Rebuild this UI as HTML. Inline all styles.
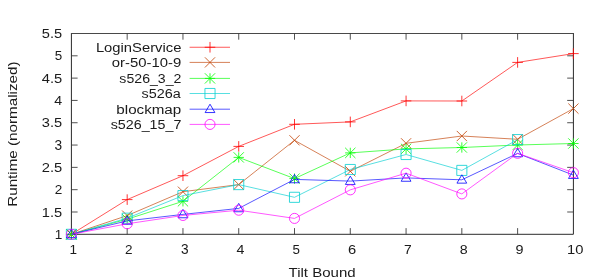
<!DOCTYPE html>
<html><head><meta charset="utf-8"><title>Runtime vs Tilt Bound</title>
<style>
html,body{margin:0;padding:0;background:#fff;}
body{width:598px;height:280px;overflow:hidden;}
svg{display:block;}
text{font-family:"Liberation Sans",sans-serif;font-size:13.70px;fill:#1a1a1a;}
.ax{stroke:#2a2a2a;stroke-width:1;fill:none;}
.tk{stroke-width:0.85;stroke:#333;}
.s{fill:none;stroke-width:0.66;}
.s .m{stroke-width:0.8;}
</style></head><body>
<svg width="598" height="280" viewBox="0 0 598 280">
<defs><filter id="soft" x="-5%" y="-5%" width="110%" height="110%"><feGaussianBlur stdDeviation="0.4"/></filter></defs>
<rect width="598" height="280" fill="#fff"/>
<g filter="url(#soft)">

<path class="ax" stroke-linecap="square" d="M71.40 33.50V234.30H573.40V33.50"/>
<path class="ax" style="stroke:#484848" d="M71.40 33.50H573.40"/>
<path class="ax tk" d="M127.18 234.30V228.10M127.18 33.50V39.70M182.96 234.30V228.10M182.96 33.50V39.70M238.73 234.30V228.10M238.73 33.50V39.70M294.51 234.30V228.10M294.51 33.50V39.70M350.29 234.30V228.10M350.29 33.50V39.70M406.07 234.30V228.10M406.07 33.50V39.70M461.84 234.30V228.10M461.84 33.50V39.70M517.62 234.30V228.10M517.62 33.50V39.70M71.40 211.99H77.60M573.40 211.99H567.20M71.40 189.68H77.60M573.40 189.68H567.20M71.40 167.37H77.60M573.40 167.37H567.20M71.40 145.06H77.60M573.40 145.06H567.20M71.40 122.74H77.60M573.40 122.74H567.20M71.40 100.43H77.60M573.40 100.43H567.20M71.40 78.12H77.60M573.40 78.12H567.20M71.40 55.81H77.60M573.40 55.81H567.20"/>
<g class="s" stroke="#ff0000">
<path d="M189.60 47.25H230.00"/>
<polyline points="71.40,234.30 127.18,199.60 182.96,175.70 238.73,146.40 294.51,124.30 350.29,121.90 406.07,100.90 461.84,101.00 517.62,62.40 573.40,53.60"/>
<path class="m" d="M204.70 47.25H215.30M210.00 41.95V52.55M66.10 234.30H76.70M71.40 229.00V239.60M121.88 199.60H132.48M127.18 194.30V204.90M177.66 175.70H188.26M182.96 170.40V181.00M233.43 146.40H244.03M238.73 141.10V151.70M289.21 124.30H299.81M294.51 119.00V129.60M344.99 121.90H355.59M350.29 116.60V127.20M400.77 100.90H411.37M406.07 95.60V106.20M456.54 101.00H467.14M461.84 95.70V106.30M512.32 62.40H522.92M517.62 57.10V67.70M568.10 53.60H578.70M573.40 48.30V58.90"/>
</g>
<g class="s" stroke="#c04000">
<path d="M189.60 62.40H230.00"/>
<polyline points="71.40,234.30 127.18,215.60 182.96,191.70 238.73,184.60 294.51,140.30 350.29,171.30 406.07,143.30 461.84,136.00 517.62,139.30 573.40,108.60"/>
<path class="m" d="M204.90 57.30L215.10 67.50M204.90 67.50L215.10 57.30M66.30 229.20L76.50 239.40M66.30 239.40L76.50 229.20M122.08 210.50L132.28 220.70M122.08 220.70L132.28 210.50M177.86 186.60L188.06 196.80M177.86 196.80L188.06 186.60M233.63 179.50L243.83 189.70M233.63 189.70L243.83 179.50M289.41 135.20L299.61 145.40M289.41 145.40L299.61 135.20M345.19 166.20L355.39 176.40M345.19 176.40L355.39 166.20M400.97 138.20L411.17 148.40M400.97 148.40L411.17 138.20M456.74 130.90L466.94 141.10M456.74 141.10L466.94 130.90M512.52 134.20L522.72 144.40M512.52 144.40L522.72 134.20M568.30 103.50L578.50 113.70M568.30 113.70L578.50 103.50"/>
</g>
<g class="s" stroke="#00ff00">
<path d="M189.60 78.40H230.00"/>
<polyline points="71.40,234.30 127.18,219.20 182.96,201.30 238.73,157.40 294.51,178.60 350.29,152.90 406.07,148.90 461.84,147.50 517.62,145.00 573.40,143.50"/>
<path class="m" d="M204.85 78.40H215.15M210.00 73.25V83.55M204.85 73.25L215.15 83.55M204.85 83.55L215.15 73.25M66.25 234.30H76.55M71.40 229.15V239.45M66.25 229.15L76.55 239.45M66.25 239.45L76.55 229.15M122.03 219.20H132.33M127.18 214.05V224.35M122.03 214.05L132.33 224.35M122.03 224.35L132.33 214.05M177.81 201.30H188.11M182.96 196.15V206.45M177.81 196.15L188.11 206.45M177.81 206.45L188.11 196.15M233.58 157.40H243.88M238.73 152.25V162.55M233.58 152.25L243.88 162.55M233.58 162.55L243.88 152.25M289.36 178.60H299.66M294.51 173.45V183.75M289.36 173.45L299.66 183.75M289.36 183.75L299.66 173.45M345.14 152.90H355.44M350.29 147.75V158.05M345.14 147.75L355.44 158.05M345.14 158.05L355.44 147.75M400.92 148.90H411.22M406.07 143.75V154.05M400.92 143.75L411.22 154.05M400.92 154.05L411.22 143.75M456.69 147.50H466.99M461.84 142.35V152.65M456.69 142.35L466.99 152.65M456.69 152.65L466.99 142.35M512.47 145.00H522.77M517.62 139.85V150.15M512.47 139.85L522.77 150.15M512.47 150.15L522.77 139.85M568.25 143.50H578.55M573.40 138.35V148.65M568.25 138.35L578.55 148.65M568.25 148.65L578.55 138.35"/>
</g>
<g class="s" stroke="#00ced1">
<path d="M189.60 93.50H230.00"/>
<polyline points="71.40,234.30 127.18,218.20 182.96,195.60 238.73,184.60 294.51,197.30 350.29,169.50 406.07,154.50 461.84,170.40 517.62,139.60"/>
<path class="m" d="M204.95 88.45H215.05V98.55H204.95ZM66.35 229.25H76.45V239.35H66.35ZM122.13 213.15H132.23V223.25H122.13ZM177.91 190.55H188.01V200.65H177.91ZM233.68 179.55H243.78V189.65H233.68ZM289.46 192.25H299.56V202.35H289.46ZM345.24 164.45H355.34V174.55H345.24ZM401.02 149.45H411.12V159.55H401.02ZM456.79 165.35H466.89V175.45H456.79ZM512.57 134.55H522.67V144.65H512.57Z"/>
</g>
<g class="s" stroke="#0000ff">
<path d="M189.60 109.20H230.00"/>
<polyline points="71.40,234.30 127.18,220.90 182.96,214.40 238.73,208.40 294.51,179.40 350.29,181.10 406.07,177.90 461.84,179.80 517.62,153.40 573.40,175.10"/>
<path class="m" d="M210.00 104.20L205.10 112.55L214.90 112.55ZM71.40 229.30L66.50 237.65L76.30 237.65ZM127.18 215.90L122.28 224.25L132.08 224.25ZM182.96 209.40L178.06 217.75L187.86 217.75ZM238.73 203.40L233.83 211.75L243.63 211.75ZM294.51 174.40L289.61 182.75L299.41 182.75ZM350.29 176.10L345.39 184.45L355.19 184.45ZM406.07 172.90L401.17 181.25L410.97 181.25ZM461.84 174.80L456.94 183.15L466.74 183.15ZM517.62 148.40L512.72 156.75L522.52 156.75ZM573.40 170.10L568.50 178.45L578.30 178.45Z"/>
</g>
<g class="s" stroke="#ff00ff">
<path d="M189.60 124.40H230.00"/>
<polyline points="71.40,234.30 127.18,223.80 182.96,215.45 238.73,210.20 294.51,218.40 350.29,189.85 406.07,173.20 461.84,193.90 517.62,153.30 573.40,172.70"/>
<path class="m" d="M204.95 124.40a5.05 5.05 0 1 0 10.10 0a5.05 5.05 0 1 0 -10.10 0ZM66.35 234.30a5.05 5.05 0 1 0 10.10 0a5.05 5.05 0 1 0 -10.10 0ZM122.13 223.80a5.05 5.05 0 1 0 10.10 0a5.05 5.05 0 1 0 -10.10 0ZM177.91 215.45a5.05 5.05 0 1 0 10.10 0a5.05 5.05 0 1 0 -10.10 0ZM233.68 210.20a5.05 5.05 0 1 0 10.10 0a5.05 5.05 0 1 0 -10.10 0ZM289.46 218.40a5.05 5.05 0 1 0 10.10 0a5.05 5.05 0 1 0 -10.10 0ZM345.24 189.85a5.05 5.05 0 1 0 10.10 0a5.05 5.05 0 1 0 -10.10 0ZM401.02 173.20a5.05 5.05 0 1 0 10.10 0a5.05 5.05 0 1 0 -10.10 0ZM456.79 193.90a5.05 5.05 0 1 0 10.10 0a5.05 5.05 0 1 0 -10.10 0ZM512.57 153.30a5.05 5.05 0 1 0 10.10 0a5.05 5.05 0 1 0 -10.10 0ZM568.35 172.70a5.05 5.05 0 1 0 10.10 0a5.05 5.05 0 1 0 -10.10 0Z"/>
</g>
<text transform="translate(54.75 238.90) scale(0.9895 1)">1</text>
<text transform="translate(41.81 216.59) scale(1.0702 1)">1.5</text>
<text transform="translate(54.76 194.28) scale(0.9889 1)">2</text>
<text transform="translate(41.70 171.97) scale(1.0759 1)">2.5</text>
<text transform="translate(54.62 149.66) scale(0.9989 1)">3</text>
<text transform="translate(41.85 127.34) scale(1.0677 1)">3.5</text>
<text transform="translate(54.14 105.03) scale(1.0368 1)">4</text>
<text transform="translate(41.74 82.72) scale(1.0741 1)">4.5</text>
<text transform="translate(54.70 60.41) scale(0.9781 1)">5</text>
<text transform="translate(41.85 38.10) scale(1.0677 1)">5.5</text>
<text transform="translate(69.39 254.20) scale(0.9895 1)">1</text>
<text transform="translate(125.04 254.20) scale(0.9889 1)">2</text>
<text transform="translate(180.95 254.20) scale(0.9989 1)">3</text>
<text transform="translate(236.59 254.20) scale(1.0368 1)">4</text>
<text transform="translate(292.52 254.20) scale(0.9781 1)">5</text>
<text transform="translate(348.03 254.20) scale(1.0738 1)">6</text>
<text transform="translate(403.98 254.20) scale(1.0103 1)">7</text>
<text transform="translate(459.68 254.20) scale(1.0405 1)">8</text>
<text transform="translate(515.38 254.20) scale(1.0517 1)">9</text>
<text transform="translate(567.04 254.20) scale(1.0764 1)">10</text>
<text transform="translate(95.90 51.65) scale(1.0793 1)">LoginService</text>
<text transform="translate(111.83 66.80) scale(1.0869 1)">or-50-10-9</text>
<text transform="translate(119.37 82.80) scale(1.0314 1)">s526_3_2</text>
<text transform="translate(141.48 97.90) scale(1.0507 1)">s526a</text>
<text transform="translate(116.33 113.60) scale(1.1081 1)">blockmap</text>
<text transform="translate(110.66 128.80) scale(1.0434 1)">s526_15_7</text>
<text transform="translate(288.52 277.30) scale(1.0995 1)">Tilt Bound</text>
<text transform="translate(17.20 206.82) rotate(-90) scale(1.1118 1)">Runtime (normalized)</text>
</g>
</svg>
</body></html>
